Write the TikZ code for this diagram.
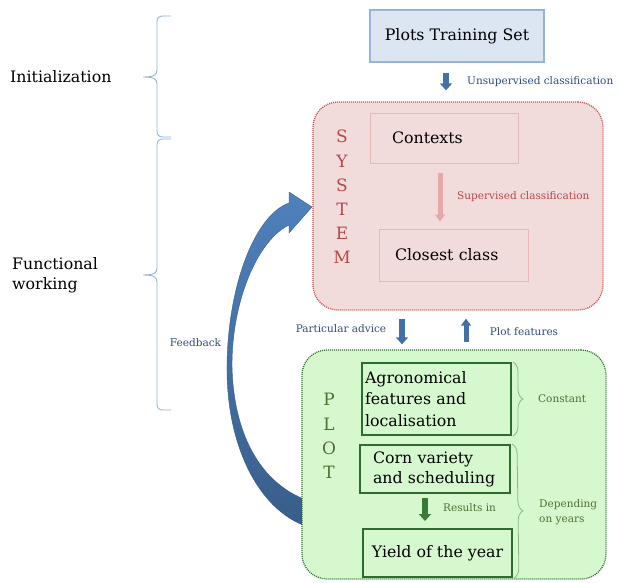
\documentclass[tikz,border=0pt]{standalone}
\usepackage{fontspec}
\setmainfont{DejaVu Serif}
\usepackage{tikz}
\usetikzlibrary{arrows.meta}
\usetikzlibrary{positioning}
\usetikzlibrary{decorations.pathreplacing}
\definecolor{tsetfill}{HTML}{DCE6F2}
\definecolor{tsetdraw}{HTML}{95B3D7}
\definecolor{arrblue}{HTML}{4470A8}
\definecolor{txtblue}{HTML}{2F4A78}
\definecolor{fbtop}{HTML}{4F81BD}
\definecolor{fbbot}{HTML}{385D8A}
\definecolor{sysfill}{HTML}{F2DCDB}
\definecolor{sysdraw}{HTML}{C0504D}
\definecolor{ctxdraw}{HTML}{E6B9B8}
\definecolor{arrpink}{HTML}{E3AAA8}
\definecolor{txtred}{HTML}{B5484A}
\definecolor{plotfill}{HTML}{D6F8CF}
\definecolor{plotdraw}{HTML}{2E6B2E}
\definecolor{boxgreen}{HTML}{2F6A30}
\definecolor{arrgreen}{HTML}{3A7A38}
\definecolor{txtolive}{HTML}{4F7030}
\definecolor{bracegreen}{HTML}{8DB58A}
\tikzset{
  bigtxt/.style = {font=\fontsize{15.8}{21.7}\selectfont},
  lbl/.style = {inner sep=0pt, font=\fontsize{10.5}{15}\selectfont},
  tset/.style = {rectangle, bigtxt, inner sep=0pt, fill=tsetfill, draw=tsetdraw,
    line width=1.3pt},
  roundbox/.style = {rectangle, rounded corners=25pt, line width=1.3pt,
    dash pattern=on 1pt off 1pt},% cadre pointille
  ctxbox/.style = {rectangle, bigtxt, inner sep=0pt, align=left, draw=ctxdraw,
    line width=1pt},
  gbox/.style = {rectangle, bigtxt, inner sep=0pt, align=left, draw=boxgreen,
    line width=2pt},
  letters/.style = {inner sep=0pt, align=center,
    font=\fontsize{17}{24.2}\selectfont},
  blockarr/.style = {line width=6pt, -{Triangle[width=12pt,length=7pt]}},
  brc/.style = {decorate, decoration={brace, amplitude=#1}},
  leftbrc/.style = {tsetdraw, line width=0.9pt}
}

\begin{document}
\begin{tikzpicture}[x=1pt,y=-1pt]
\useasboundingbox (0,0) rectangle (619,582);

% fleche de retour
\shade[top color=fbtop, bottom color=fbbot, draw=fbbot, line width=0.4pt]
  (312,528) .. controls (262,515) and (226,450) .. (227,365)
  .. controls (228,285) and (255,215) .. (289,203)
  -- (289,192) -- (312,207) -- (289,233) -- (289,225)
  .. controls (258,240) and (232,300) .. (232,365)
  .. controls (233,430) and (258,485) .. (312,502) -- cycle;

\node [tset, minimum width=174pt, minimum height=52pt] (tset) at (457,36) {Plots Training Set};
\node [roundbox, fill=sysfill, draw=sysdraw, minimum width=290pt, minimum height=208pt] (sys) at (458,206) {};
\node [roundbox, fill=plotfill, draw=plotdraw, minimum width=304pt, minimum height=229pt] (plot) at (454,464.5) {};

\node [ctxbox, minimum width=148pt, minimum height=50pt, text width=104pt] (ctx) at (444,138) {Contexts};
\node [ctxbox, minimum width=149pt, minimum height=52pt, text width=117pt] (cls) at (453.5,255) {Closest class};
\node [letters, text=txtred] (sysname) at (342,197) {S\\Y\\S\\T\\E\\M};

\node [gbox, minimum width=149pt, minimum height=72pt, text width=143pt] (agr) at (436.5,399) {Agronomical\\features and\\localisation};
\node [gbox, minimum width=150pt, minimum height=48pt, text width=124pt,
  font=\fontsize{15.8}{20}\selectfont] (corn) at (435,469) {Corn variety\\and scheduling};
\node [gbox, align=center, minimum width=149pt, minimum height=48pt] (yld) at (437.5,553) {Yield of the year};
\node [letters, text=txtolive] (plotname) at (329,436) {P\\L\\O\\T};

% fleches
\draw[blockarr, arrblue] ([xshift=-11pt,yshift=-10pt]tset.south) -- ([xshift=-12pt,yshift=11pt]sys.north);
\draw[arrpink, line width=5pt, -{Triangle[width=10pt,length=7pt]}]
  ([xshift=-4pt,yshift=-9pt]ctx.south) -- ([xshift=-13.5pt,yshift=7pt]cls.north);
\draw[blockarr, arrblue] ([xshift=-56pt,yshift=-8pt]sys.south) -- ([xshift=-52pt,yshift=5pt]plot.north);
\draw[blockarr, arrblue, line width=5pt, -{Triangle[width=10pt,length=7pt]}]
  ([xshift=12pt,yshift=7pt]plot.north) -- ([xshift=8pt,yshift=-8pt]sys.south);
\draw[blockarr, arrgreen] ([xshift=-10pt,yshift=-4pt]corn.south) -- ([xshift=-12.5pt,yshift=7pt]yld.north);

% etiquettes
\node [lbl, text=txtblue, anchor=west] (unsup) at (467,82) {Unsupervised classification};
\node [lbl, text=txtred, anchor=west] (sup) at (457,197) {Supervised classification};
\node [lbl, text=txtblue] (advice) at (341,329) {Particular advice};
\node [lbl, text=txtblue] (feat) at (524,332) {Plot features};
\node [lbl, text=txtolive, anchor=west] (res) at (443,508) {Results in};
\node [lbl, text=txtblue] (fb) at (195.5,343) {Feedback};

% accolades
\draw[brc=10pt, bracegreen, line width=0.8pt] ([xshift=1pt]agr.north east) -- ([xshift=1pt]agr.south east);
\draw[brc=10pt, bracegreen, line width=0.8pt] ([xshift=1pt]corn.north east) -- ([xshift=1pt]yld.south east);
\node [lbl, text=txtolive, right=26pt of agr] (cst) {Constant};
\node [lbl, text=txtolive, anchor=west, align=left] (dep) at (539,512) {Depending\\on years};

\draw[leftbrc] (171,16) -- (163,16) .. controls (159,16) and (157,18) .. (157,22)
  -- (157,70) .. controls (157,75) and (154,77) .. (143,77)
  .. controls (154,77) and (157,79) .. (157,84)
  -- (157,131) .. controls (157,135) and (159,137) .. (163,137) -- (171,137);
\draw[leftbrc] (171,139) -- (163,139) .. controls (159,139) and (157,141) .. (157,145)
  -- (157,268) .. controls (157,273) and (154,275) .. (143,275)
  .. controls (154,275) and (157,277) .. (157,282)
  -- (157,404) .. controls (157,408) and (159,410) .. (163,410) -- (171,410);
\node [bigtxt, inner sep=0pt, anchor=west] (init) at (10,77) {Initialization};
\node [bigtxt, inner sep=0pt, anchor=west, align=left,
  font=\fontsize{15.8}{20}\selectfont] (func) at (12,275) {Functional\\working};
\end{tikzpicture}
\end{document}
